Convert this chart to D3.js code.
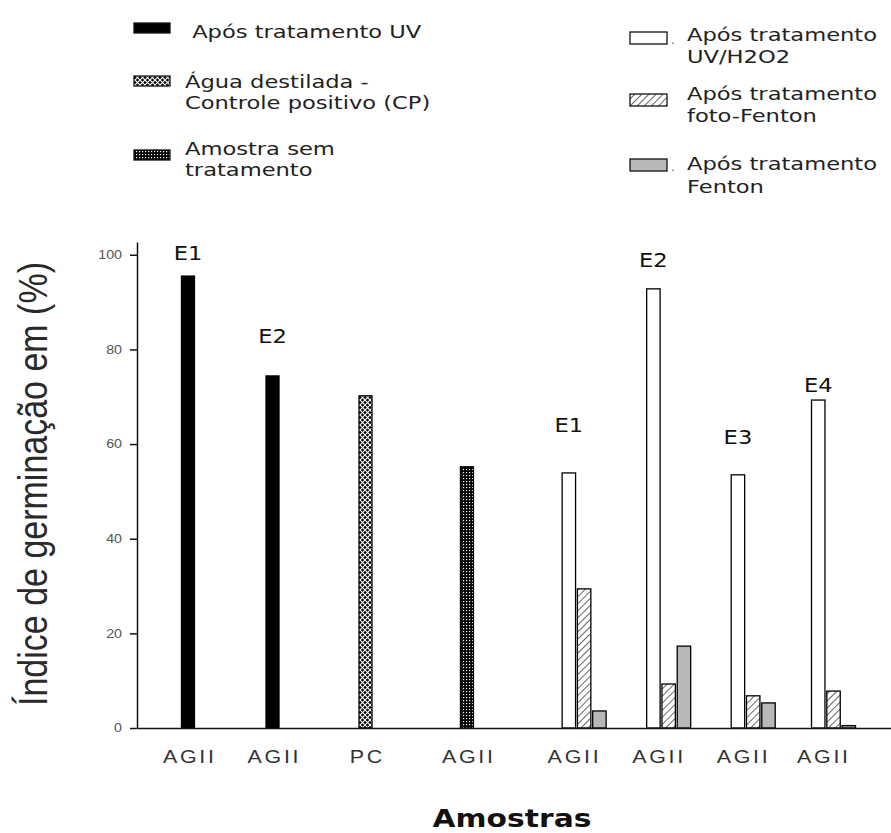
<!DOCTYPE html>
<html><head><meta charset="utf-8">
<script src="https://cdn.jsdelivr.net/npm/d3@7"></script>
<style>body{margin:0;background:#fff}</style>
</head><body><svg id="c" width="891" height="833"></svg>
<script>
// ---------- DATA ----------
const categories = ["AGII","AGII","PC","AGII","AGII","AGII","AGII","AGII"];
const valUV         = [95.5, 74.4, null, null, null, null, null, null];
const valCP         = [null, null, 70.2, null, null, null, null, null];
const valSem        = [null, null, null, 55.2, null, null, null, null];
const valUVH2O2     = [null, null, null, null, 53.9, 92.8, 53.5, 69.3];
const valFotoFenton = [null, null, null, null, 29.4, 9.3, 6.8, 7.8];
const valFenton     = [null, null, null, null, 3.6, 17.3, 5.3, 0.5];
const expLabels     = ["E1","E2",null,null,"E1","E2","E3","E4"];
const expLabelLevel = [98.9, 81.4, null, null, 62.6, 97.5, 60, 71];
const yTicks = [0, 20, 40, 60, 80, 100];
const yTitle = "Índice de germinação em (%)";
const xTitle = "Amostras";
const legendLeftTexts  = [[" Após tratamento UV"], ["Água destilada -", "Controle positivo (CP)"], ["Amostra sem", "tratamento"]];
const legendRightTexts = [["Após tratamento", "UV/H2O2"], ["Após tratamento", "foto-Fenton"], ["Após tratamento", "Fenton"]];

// ---------- LAYOUT / STYLE ----------
const SX = 1.19; // horizontal stretch of text
const LSX = 1.255; // legend text stretch
const catSlot = [0, 1, 2.1, 3.3, 4.55, 5.55, 6.55, 7.5];
const svg = d3.select("#c");
const defs = svg.append("defs");

// patterns
const pCP = defs.append("pattern").attr("id","pCP").attr("patternUnits","userSpaceOnUse").attr("width",5).attr("height",5);
pCP.append("rect").attr("width",5).attr("height",5).attr("fill","#000");
pCP.append("path").attr("d","M0,0L5,5M5,0L0,5").attr("stroke","#fff").attr("stroke-width",1.1);
const pSem = defs.append("pattern").attr("id","pSem").attr("patternUnits","userSpaceOnUse").attr("width",3).attr("height",3);
pSem.append("rect").attr("width",3).attr("height",3).attr("fill","#000");
pSem.append("rect").attr("x",1).attr("y",1).attr("width",1.2).attr("height",1.2).attr("fill","#fff");
const pH = defs.append("pattern").attr("id","pHatch").attr("patternUnits","userSpaceOnUse").attr("width",5).attr("height",5).attr("patternTransform","rotate(45)");
pH.append("rect").attr("width",5).attr("height",5).attr("fill","#fff");
pH.append("line").attr("x1",0).attr("y1",0).attr("x2",0).attr("y2",5).attr("stroke","#000").attr("stroke-width",1.2);

const seriesStyle = {
  uv:    {fill:"#000", stroke:"#000"},
  cp:    {fill:"url(#pCP)", stroke:"#000"},
  sem:   {fill:"url(#pSem)", stroke:"#000"},
  h2o2:  {fill:"#fff", stroke:"#000"},
  foto:  {fill:"url(#pHatch)", stroke:"#000"},
  fenton:{fill:"#b8b8b8", stroke:"#000"}
};
const singleSeries = [["uv", valUV], ["cp", valCP], ["sem", valSem]];
const groupSeries  = [["h2o2", valUVH2O2], ["foto", valFotoFenton], ["fenton", valFenton]];

// scales
const y = d3.scaleLinear().domain([0, 102.7]).range([728, 242]);
const x = d3.scaleLinear().domain([-0.603, 8.316]).range([137, 891]);
const inner = d3.scaleBand().domain(groupSeries.map(s => s[0])).range([-10.5, 33.5]).paddingInner(0.12);
const singleW = 13;

// bars
const bars = [];
singleSeries.forEach(([k, arr]) => arr.forEach((v, i) => {
  if (v != null) bars.push({k, v, x0: x(catSlot[i]) - singleW/2, w: singleW});
}));
groupSeries.forEach(([k, arr]) => arr.forEach((v, i) => {
  if (v != null) bars.push({k, v, x0: x(catSlot[i]) + inner(k), w: inner.bandwidth()});
}));
svg.append("g").selectAll("rect").data(bars).join("rect")
  .attr("x", d => d.x0).attr("width", d => d.w)
  .attr("y", d => y(d.v)).attr("height", d => y(0) - y(d.v))
  .attr("fill", d => seriesStyle[d.k].fill).attr("stroke", d => seriesStyle[d.k].stroke)
  .attr("stroke-width", 1.3);

// E labels
const labG = svg.append("g");
expLabels.forEach((t, i) => {
  if (!t) return;
  const grouped = valUVH2O2[i] != null;
  const cx = grouped ? x(catSlot[i]) + inner("h2o2") + inner.bandwidth()/2 : x(catSlot[i]);
  labG.append("text").attr("transform", `translate(${cx},${y(expLabelLevel[i])}) scale(${SX},1)`)
    .attr("text-anchor","middle").attr("font-family","DejaVu Sans").attr("font-size",19).attr("fill","#111").text(t);
});

// axes
const yAxis = svg.append("g").attr("transform","translate(137,0)")
  .call(d3.axisLeft(y).tickValues(yTicks).tickSize(7).tickSizeOuter(0).tickPadding(8));
yAxis.selectAll("path,line").attr("stroke","#111").attr("stroke-width",1.5);
yAxis.selectAll("text").attr("font-family","Liberation Sans").attr("font-size",12).attr("fill","#555")
  .attr("x", -15/SX).attr("transform", `scale(${SX},1)`);

const xAxis = svg.append("g").attr("transform","translate(0,728)")
  .call(d3.axisBottom(x).tickValues(catSlot).tickFormat((d,i) => categories[i]).tickSize(0).tickSizeOuter(0));
xAxis.selectAll("path").attr("stroke","#111").attr("stroke-width",1.5);
xAxis.selectAll("text").attr("font-family","Liberation Sans").attr("font-size",18).attr("fill","#333")
  .attr("letter-spacing","2.3px").attr("y",35).attr("dy",0).attr("dx",1.15).attr("transform", `scale(${SX},1)`);

// titles
svg.append("text").attr("transform", `translate(47,484) scale(${SX},1) rotate(-90)`)
  .attr("text-anchor","middle").attr("font-family","Liberation Sans").attr("font-size",34).attr("fill","#2a2a2a").text(yTitle);
svg.append("text").attr("transform", `translate(512,827) scale(${SX},1)`)
  .attr("text-anchor","middle").attr("font-family","DejaVu Sans").attr("font-weight","bold").attr("font-size",25).attr("fill","#111").text(xTitle);

// legend
const legKeysL = ["uv","cp","sem"], legKeysR = ["h2o2","foto","fenton"];
const legL = {rx:134, rw:36, rh:10, ry:[23,76,150], tx:[185,185,185], base:[38,88,155], lh:[0,21,21]};
const legR = {rx:630, rw:37, rh:12, ry:[32,94,159], tx:[687,687,687], base:[41,100,170], lh:[22,22,23]};
function legend(keys, texts, L, dots) {
  const g = svg.append("g");
  keys.forEach((k, i) => {
    g.append("rect").attr("x",L.rx).attr("y",L.ry[i]).attr("width",L.rw).attr("height",L.rh)
      .attr("fill", seriesStyle[k].fill).attr("stroke","#111").attr("stroke-width",1.3);
    if (dots && dots[i]) g.append("text").attr("x",L.rx+L.rw+4).attr("y",L.ry[i]+L.rh).attr("font-family","DejaVu Sans").attr("font-size",12).attr("fill","#666").text(".");
    const t = g.append("text").attr("transform", `translate(${L.tx[i]},${L.base[i]}) scale(${LSX},1)`)
      .attr("font-family","DejaVu Sans").attr("font-size",18).attr("fill","#222")
      .attr("xml:space","preserve").style("white-space","pre");
    texts[i].forEach((s, j) => {
      t.append("tspan").attr("x",0).attr("y", j * L.lh[i]).text(s);
    });
  });
}
legend(legKeysL, legendLeftTexts, legL, null);
legend(legKeysR, legendRightTexts, legR, [true,false,true]);
</script></body></html>
